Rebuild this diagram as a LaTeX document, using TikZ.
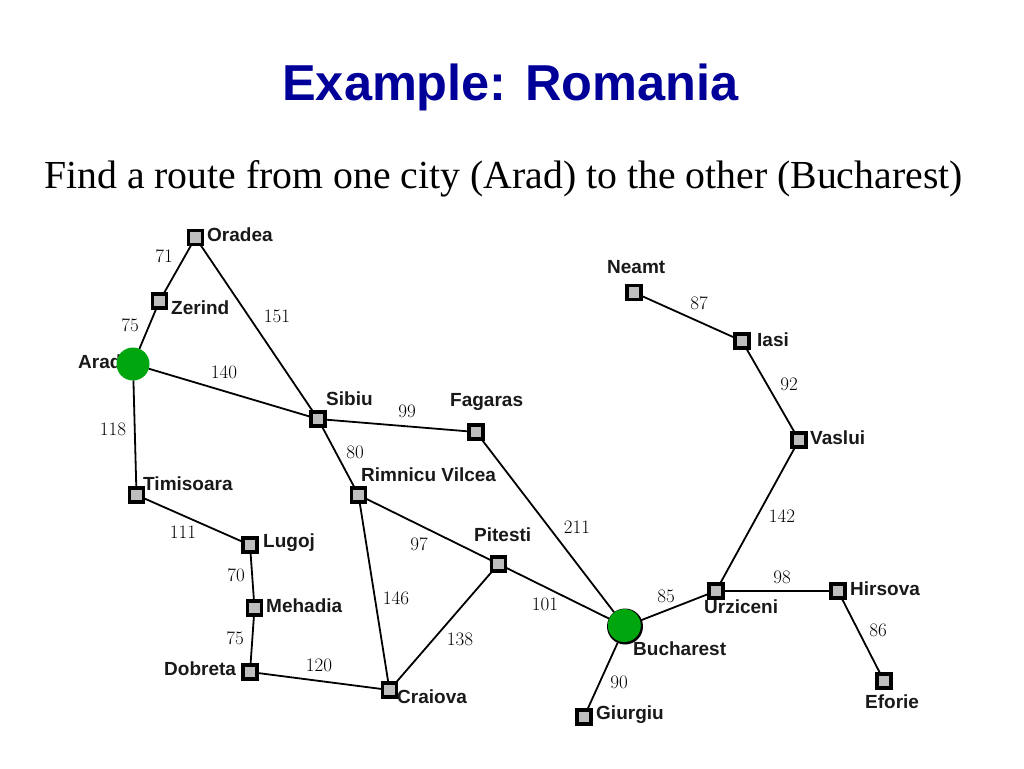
\documentclass[tikz,border=0pt]{standalone}
\usepackage{fontspec}
\setsansfont{Liberation Sans}
\setmainfont{Latin Modern Roman}
\newfontfamily\serifT{Liberation Serif}
\definecolor{titleblue}{HTML}{000099}
\definecolor{citygreen}{HTML}{00A60E}
\definecolor{citygray}{HTML}{BEBEBE}
\tikzset{
  citybox/.style={draw=black,fill=citygray,line width=3.2pt,minimum size=14pt,inner sep=0pt,outer sep=0pt,rectangle},
  startcity/.style={circle,fill=citygreen,minimum size=33pt,inner sep=0pt,outer sep=0pt},
  rimdisc/.style={circle,fill=black,minimum size=36pt,inner sep=0pt,outer sep=0pt},
  cityname/.style={font=\sffamily\bfseries\fontsize{19}{22}\selectfont,inner sep=0pt,text=black!90,anchor=west},
  distlabel/.style={font=\fontsize{19}{22}\selectfont,inner sep=0pt,text=black},
  road/.style={draw=black,line width=1.8pt}
}
\begin{document}
\begin{tikzpicture}[x=1pt,y=-1pt]
\useasboundingbox (0,0) rectangle (1024,768);
\node[font=\sffamily\bfseries\fontsize{50.5}{56}\selectfont,text=titleblue,inner sep=0pt] (title) at (510.5,87) {Example: Romania};
\node[font=\serifT\fontsize{39.75}{44}\selectfont,inner sep=0pt] (sub) at (503.5,179) {Find a route from one city (Arad) to the other (Bucharest)};
% city names
\node[cityname] (lOradea) at (207,235) {Oradea};
\node[cityname] (lZerind) at (171,308) {Zerind};
\node[cityname] (lArad) at (78,362) {Arad};
\node[cityname] (lTimisoara) at (143,484) {Timisoara};
\node[cityname] (lLugoj) at (263,543) {Lugoj};
\node[cityname] (lMehadia) at (266,606) {Mehadia};
\node[cityname] (lDobreta) at (164,669) {Dobreta};
\node[cityname] (lCraiova) at (397,697) {Craiova};
\node[cityname] (lRimnicu) at (361,475) {Rimnicu Vilcea};
\node[cityname] (lSibiu) at (326,399) {Sibiu};
\node[cityname] (lFagaras) at (450,402) {Fagaras};
\node[cityname] (lPitesti) at (474,535) {Pitesti};
\node[cityname] (lBucharest) at (633,649) {Bucharest};
\node[cityname] (lGiurgiu) at (596,715) {Giurgiu};
\node[cityname] (lUrziceni) at (704,607) {Urziceni};
\node[cityname] (lHirsova) at (850,589) {Hirsova};
\node[cityname] (lEforie) at (865,702) {Eforie};
\node[cityname] (lVaslui) at (810,438) {Vaslui};
\node[cityname] (lIasi) at (757,340) {Iasi};
\node[cityname] (lNeamt) at (607,267) {Neamt};
% cities
\node[citybox] (Oradea) at (195.5,237.5) {};
\node[citybox] (Zerind) at (159.5,301) {};
\node[startcity] (Arad) at (133,364) {};
\node[citybox] (Timisoara) at (136.5,495) {};
\node[citybox] (Lugoj) at (250,545) {};
\node[citybox] (Mehadia) at (254.5,608) {};
\node[citybox] (Dobreta) at (250,672) {};
\node[citybox] (Craiova) at (389.5,690) {};
\node[citybox] (Rimnicu) at (358.5,495) {};
\node[citybox] (Sibiu) at (318,419) {};
\node[citybox] (Fagaras) at (476,432) {};
\node[citybox] (Pitesti) at (498.5,564) {};
\node[rimdisc] (BucharestRim) at (625,626.5) {};
\node[startcity] (Bucharest) at (624.3,625.5) {};
\node[citybox] (Giurgiu) at (584,717) {};
\node[citybox] (Urziceni) at (716,591) {};
\node[citybox] (Hirsova) at (838,591) {};
\node[citybox] (Eforie) at (884,681) {};
\node[citybox] (Vaslui) at (799,440) {};
\node[citybox] (Iasi) at (742,341) {};
\node[citybox] (Neamt) at (634,292.5) {};
% roads
\draw[road] (Oradea) -- (Zerind);
\draw[road] (Zerind) -- (Arad);
\draw[road] (Oradea) -- (Sibiu);
\draw[road] (Arad) -- (Sibiu);
\draw[road] (Arad) -- (Timisoara);
\draw[road] (Timisoara) -- (Lugoj);
\draw[road] (Lugoj) -- (Mehadia);
\draw[road] (Mehadia) -- (Dobreta);
\draw[road] (Dobreta) -- (Craiova);
\draw[road] (Sibiu) -- (Fagaras);
\draw[road] (Sibiu) -- (Rimnicu);
\draw[road] (Rimnicu) -- (Pitesti);
\draw[road] (Rimnicu) -- (Craiova);
\draw[road] (Craiova) -- (Pitesti);
\draw[road] (Pitesti) -- (BucharestRim);
\draw[road] (Fagaras) -- (BucharestRim);
\draw[road] (BucharestRim) -- (Giurgiu);
\draw[road] (BucharestRim) -- (Urziceni);
\draw[road] (Urziceni) -- (Hirsova);
\draw[road] (Hirsova) -- (Eforie);
\draw[road] (Urziceni) -- (Vaslui);
\draw[road] (Vaslui) -- (Iasi);
\draw[road] (Iasi) -- (Neamt);
% distances
\node[distlabel] (d71) at (164,256) {71};
\node[distlabel] (d75a) at (130,325) {75};
\node[distlabel] (d151) at (277,316) {151};
\node[distlabel] (d140) at (224,372) {140};
\node[distlabel] (d118) at (113,429) {118};
\node[distlabel] (d111) at (183,532) {111};
\node[distlabel] (d70) at (236,575) {70};
\node[distlabel] (d75b) at (235,638) {75};
\node[distlabel] (d120) at (319,665) {120};
\node[distlabel] (d99) at (407,411) {99};
\node[distlabel] (d80) at (355,452) {80};
\node[distlabel] (d97) at (419,544) {97};
\node[distlabel] (d146) at (396,598) {146};
\node[distlabel] (d138) at (460,639) {138};
\node[distlabel] (d101) at (545,604) {101};
\node[distlabel] (d211) at (577,527) {211};
\node[distlabel] (d85) at (666,596) {85};
\node[distlabel] (d90) at (619,682) {90};
\node[distlabel] (d98) at (782,577) {98};
\node[distlabel] (d86) at (878,630) {86};
\node[distlabel] (d142) at (782,516) {142};
\node[distlabel] (d92) at (789,384) {92};
\node[distlabel] (d87) at (699,303) {87};
\end{tikzpicture}
\end{document}
